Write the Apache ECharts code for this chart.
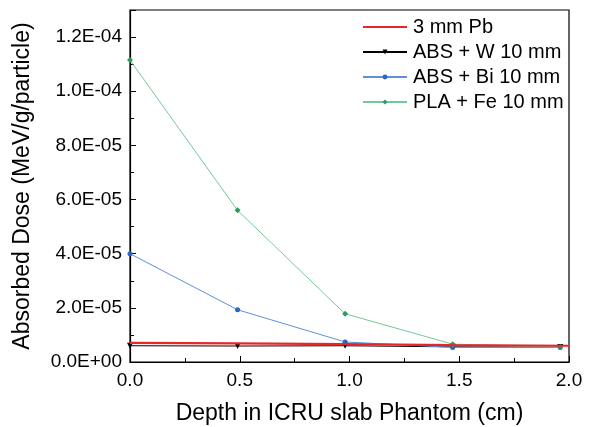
<!DOCTYPE html>
<html>
<head>
<meta charset="utf-8">
<script src="https://cdn.jsdelivr.net/npm/echarts@6/dist/echarts.min.js"></script>
<style>
  html, body { margin: 0; padding: 0; background: #fff; }
  #chart { width: 592px; height: 427px; }
</style>
</head>
<body>
<div id="chart"></div>
<script>
// depth points (cm)
var depthPb = [0, 0.49, 0.98, 1.47, 2.0];
var depth = [0, 0.49, 0.98, 1.47, 1.96];

// absorbed dose (MeV/g/particle)
var dosePb = [7.1e-6, 6.9e-6, 6.6e-6, 6.2e-6, 6.0e-6];
var doseW = [6.0e-6, 5.9e-6, 6.0e-6, 5.6e-6, 5.5e-6];
var doseBi = [4.0e-5, 1.93e-5, 7.4e-6, 5.4e-6, 5.4e-6];
var doseFe = [1.115e-4, 5.6e-5, 1.78e-5, 6.6e-6, 5.5e-6];

var seriesNames = ['3 mm Pb', 'ABS + W 10 mm', 'ABS + Bi 10 mm', 'PLA + Fe 10 mm'];

function pairs(xs, ys) {
    return xs.map(function (x, i) { return [x, ys[i]]; });
}

// 1.2E-04 style labels
function sci(v) {
    if (v === 0) return '0.0E+00';
    var e = Math.floor(Math.log10(v) + 1e-9);
    var m = v / Math.pow(10, e);
    var s = m.toFixed(1);
    if (s === '10.0') { e += 1; s = '1.0'; }
    var sign = e < 0 ? '-' : '+';
    var a = Math.abs(e);
    return s + 'E' + sign + (a < 10 ? '0' + a : a);
}

var myChart = echarts.init(document.getElementById('chart'));
var font = 'Liberation Sans, Arial, sans-serif';

var option = {
    animation: false,
    grid: {
        left: 130, right: 23, top: 10, bottom: 65,
        outerBoundsMode: 'none',
        show: true, borderColor: '#000', borderWidth: 1.2
    },
    legend: {
        orient: 'vertical',
        left: 362, top: 17, padding: 0,
        itemWidth: 44, itemHeight: 6, itemGap: 5,
        textStyle: { fontFamily: font, fontSize: 20, lineHeight: 20, color: '#000', padding: [0, 0, 0, 1] },
        data: [
            // plain line for the series that has no markers
            { name: seriesNames[0], icon: 'path://M0,0 L44,0 L44,2 L0,2 Z' },
            seriesNames[1], seriesNames[2], seriesNames[3]
        ]
    },
    xAxis: {
        type: 'value', min: 0, max: 2, interval: 0.5,
        name: 'Depth in ICRU slab Phantom (cm)',
        nameLocation: 'middle', nameGap: 40,
        nameTextStyle: { fontFamily: font, fontSize: 23, color: '#000' },
        axisLine: { lineStyle: { color: '#000', width: 1.2 } },
        axisTick: { inside: true, length: 6, lineStyle: { color: '#000' } },
        minorTick: { show: true, splitNumber: 2, length: 4, lineStyle: { color: '#000' } },
        splitLine: { show: false },
        axisLabel: {
            fontFamily: font, fontSize: 19, color: '#000', margin: 9,
            formatter: function (v) { return v.toFixed(1); }
        }
    },
    yAxis: {
        type: 'value', min: 0, max: 1.3e-4, interval: 2e-5,
        name: 'Absorbed Dose (MeV/g/particle)',
        nameLocation: 'middle', nameGap: 96, nameRotate: 90,
        nameTextStyle: { fontFamily: font, fontSize: 23, color: '#000' },
        axisLine: { lineStyle: { color: '#000', width: 1.2 } },
        axisTick: { inside: true, length: 6, lineStyle: { color: '#000' } },
        minorTick: { show: true, splitNumber: 2, length: 4, lineStyle: { color: '#000' } },
        splitLine: { show: false },
        axisLabel: {
            fontFamily: font, fontSize: 19, color: '#000', margin: 8,
            showMaxLabel: false,
            formatter: sci
        }
    },
    series: [
        {
            name: seriesNames[0], type: 'line', z: 5,
            data: pairs(depthPb, dosePb),
            symbol: 'none',
            itemStyle: { color: '#e8262a' },
            lineStyle: { color: '#e8262a', width: 2.2 }
        },
        {
            name: seriesNames[1], type: 'line', z: 3,
            data: pairs(depth, doseW),
            symbol: 'triangle', symbolRotate: 180, symbolSize: 6,
            itemStyle: { color: '#000' },
            lineStyle: { color: '#000', width: 1 }
        },
        {
            name: seriesNames[2], type: 'line', z: 3,
            data: pairs(depth, doseBi),
            symbol: 'circle', symbolSize: 5,
            itemStyle: { color: '#2a66c4' },
            lineStyle: { color: '#5f8fd8', width: 1 }
        },
        {
            name: seriesNames[3], type: 'line', z: 3,
            data: pairs(depth, doseFe),
            symbol: 'diamond', symbolSize: 6,
            itemStyle: { color: '#2a9c5c' },
            lineStyle: { color: '#72c99a', width: 1 }
        }
    ]
};

myChart.setOption(option);
</script>
</body>
</html>
